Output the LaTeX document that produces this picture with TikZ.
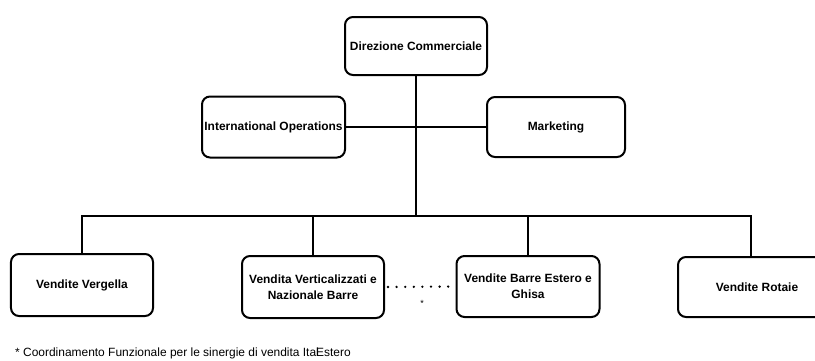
\documentclass[tikz,border=0pt]{standalone}
\usepackage{fontspec}
\setmainfont{Liberation Sans}
\begin{document}
\begin{tikzpicture}[x=1bp,y=-1bp,
  box/.style={draw, rounded corners=8bp, line width=2bp, inner sep=0pt,
    align=center, font=\fontsize{12}{16}\selectfont\bfseries},
  conn/.style={line width=2bp},
  dotline/.style={line width=2.6bp, line cap=round, dash pattern=on 0bp off 8.6bp}]
\useasboundingbox (0,0) rectangle (815,360);
\clip (0,0) rectangle (815,360);
\node[box, minimum width=142bp, minimum height=58bp] (dir) at (416,46) {Direzione Commerciale};
\node[box, minimum width=143bp, minimum height=61bp] (io) at (273.5,127) {International Operations};
\node[box, minimum width=138bp, minimum height=60bp] (mk) at (556,127) {Marketing};
\node[box, minimum width=142bp, minimum height=62bp] (vv) at (82,285) {Vendite Vergella};
\node[box, minimum width=142bp, minimum height=62bp] (vn) at (313,287) {Vendita Verticalizzati e\\Nazionale Barre};
\node[box, minimum width=143bp, minimum height=61bp] (vb) at (528,286.5) {Vendite Barre Estero e\\Ghisa};
\node[box, minimum width=158bp, minimum height=60bp] (vr) at (757,287) {Vendite Rotaie};
\coordinate (bus) at (0,216);
\draw[conn] (dir.south) -- (dir.south |- bus);
\draw[conn] (io.east) -- (mk.west);
\draw[conn] (vv.north) -- (vv.north |- bus) -- ([xshift=-6bp]vr.north |- bus) -- ([xshift=-6bp]vr.north);
\draw[conn] (vn.north) -- (vn.north |- bus);
\draw[conn] (vb.north) -- (vb.north |- bus);
\draw[dotline] ([xshift=3bp]vn.east) -- ([xshift=-1bp]vb.west);
\node[font=\fontsize{9}{10}\selectfont, inner sep=0pt] (ast) at (422,303) {*};
\node[anchor=base west, inner sep=0pt, font=\fontsize{12}{14}\selectfont] (foot) at (15,356.5) {* Coordinamento Funzionale per le sinergie di vendita Ital};
\node[anchor=base west, inner sep=0pt, font=\fontsize{12}{14}\selectfont] (foot2) at (316,356.5) {Estero};
\end{tikzpicture}
\end{document}
